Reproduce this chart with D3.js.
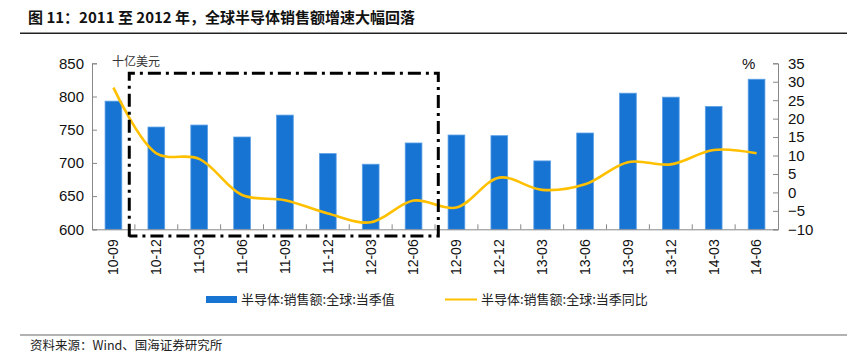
<!DOCTYPE html>
<html><head><meta charset="utf-8">
<script src="https://cdn.jsdelivr.net/npm/d3@7/dist/d3.min.js"></script>
<style>body{margin:0;background:#fff}svg{display:block}</style>
</head><body>
<svg id="c" width="848" height="355"></svg>
<script>
const categories = ["10-09","10-12","11-03","11-06","11-09","11-12","12-03","12-06","12-09","12-12","13-03","13-06","13-09","13-12","14-03","14-06"];
const salesValues = [793,754,757,739,772,714,698,730,742,741,703,745,805,799,785,826];
const yoyValues = [28.4,10.6,9.1,-0.7,-2.1,-5.7,-8.1,-2.2,-4.1,4.0,0.7,2.2,8.2,7.6,11.5,10.6];
const leftTicks = [600,650,700,750,800,850];
const rightTicks = [-10,-5,0,5,10,15,20,25,30,35];
const highlight = ["10-12","12-06"];

const svg = d3.select("#c");
const L = 92, R = 778, T = 63.3, B = 229.3;
const sans = "'Liberation Sans', Arial, sans-serif";
const cjk = "'Noto Sans CJK SC', sans-serif";

// title
svg.append("text").attr("x",28).attr("y",23).attr("font-family",cjk).attr("font-weight","700")
  .attr("font-size",15).attr("fill","#111").text("图 11：2011 至 2012 年，全球半导体销售额增速大幅回落");
svg.append("line").attr("x1",20).attr("x2",847).attr("y1",33.3).attr("y2",33.3).attr("stroke","#222").attr("stroke-width",1.6);
svg.append("line").attr("x1",20).attr("x2",847).attr("y1",335).attr("y2",335).attr("stroke","#999").attr("stroke-width",1.6);
svg.append("text").attr("x",30).attr("y",350).attr("font-family",cjk).attr("font-size",12.5).attr("fill","#222")
  .text("资料来源：Wind、国海证券研究所");

const x = d3.scaleBand().domain(categories).range([L,R]).paddingInner(0.61).paddingOuter(0.305);
const xb = d3.scaleBand().domain(categories).range([L,R]);
const yL = d3.scaleLinear().domain([600,850]).range([B,T]);
const yR = d3.scaleLinear().domain([-10,35]).range([B,T]);

// bars
svg.append("g").selectAll("rect").data(categories).join("rect")
  .attr("x",d=>x(d)).attr("width",x.bandwidth())
  .attr("y",(d,i)=>yL(salesValues[i])).attr("height",(d,i)=>B-yL(salesValues[i]))
  .attr("fill","#1874D2").attr("stroke","#5AA0E6").attr("stroke-width",0.8);

// axes
const axL = svg.append("g").attr("transform",`translate(${L},0)`)
  .call(d3.axisLeft(yL).tickValues(leftTicks).tickSize(-5).tickPadding(8));
const axR = svg.append("g").attr("transform",`translate(${R},0)`)
  .call(d3.axisRight(yR).tickValues(rightTicks).tickSize(-5).tickPadding(10));
[axL,axR].forEach(a=>{
  a.select(".domain").attr("stroke","#888");
  a.selectAll(".tick line").attr("stroke","#888");
  a.selectAll("text").attr("font-family",sans).attr("font-size",15).attr("fill","#111");
});
const axB = svg.append("g").attr("transform",`translate(0,${B})`)
  .call(d3.axisBottom(xb).tickSize(0).tickPadding(0));
axB.select(".domain").attr("stroke","#888");
axB.selectAll(".tick text").attr("font-family",sans).attr("font-size",14).attr("fill","#111")
  .attr("transform","rotate(-90)").attr("text-anchor","end").attr("dx","-10").attr("dy","0.35em").attr("y",0);
// inner category boundary ticks
svg.append("g").selectAll("line").data(categories.slice(1)).join("line")
  .attr("x1",d=>xb(d)).attr("x2",d=>xb(d)).attr("y1",B).attr("y2",B-5).attr("stroke","#888");

// line
const line = d3.line().x((d,i)=>xb(categories[i])+xb.bandwidth()/2).y(d=>yR(d)).curve(d3.curveCatmullRom.alpha(0.5));
svg.append("path").datum(yoyValues).attr("d",line).attr("fill","none").attr("stroke","#FFC000").attr("stroke-width",2.6);

// highlight box
const bx1 = xb(highlight[0]) - 5.6, bx2 = xb(highlight[1]) + xb.bandwidth() + 3.3;
svg.append("path").attr("d",`M${bx1},236.7 L${bx1},73.3 L${bx2},73.3 L${bx2},236 L${bx1},236`)
  .attr("fill","none").attr("stroke","#000").attr("stroke-width",3).attr("stroke-dasharray","13,5,3,5");

// unit labels
svg.append("text").attr("x",112).attr("y",66).attr("font-family",cjk).attr("font-size",12).attr("fill","#333").text("十亿美元");
svg.append("text").attr("x",742).attr("y",69).attr("font-family",sans).attr("font-size",15).attr("fill","#111").text("%");

// legend
svg.append("rect").attr("x",206).attr("y",296).attr("width",31).attr("height",7).attr("fill","#1874D2");
svg.append("text").attr("x",241).attr("y",304).attr("font-family",cjk).attr("font-size",13).attr("fill","#222").text("半导体:销售额:全球:当季值");
svg.append("line").attr("x1",445).attr("x2",477).attr("y1",299.5).attr("y2",299.5).attr("stroke","#FFC000").attr("stroke-width",2);
svg.append("text").attr("x",481).attr("y",304).attr("font-family",cjk).attr("font-size",13).attr("fill","#222").text("半导体:销售额:全球:当季同比");
</script>
</body></html>
